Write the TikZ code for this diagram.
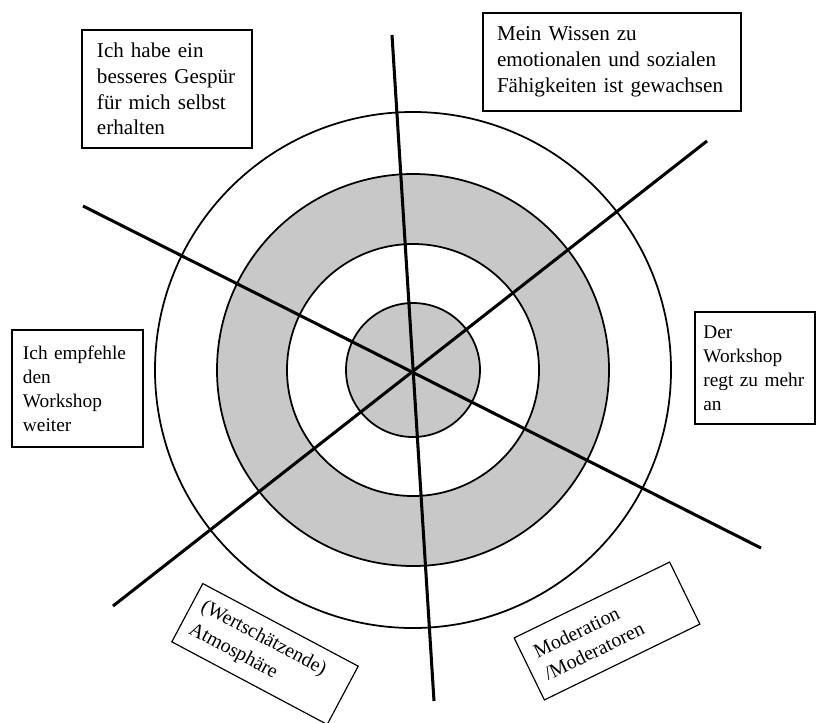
\documentclass[tikz,border=0pt]{standalone}
\usepackage{fontspec}
\setmainfont{Liberation Serif}
\usepackage{tikz}
\definecolor{ringgray}{RGB}{200,200,200}

\begin{document}
\begin{tikzpicture}[x=0.03cm, y=-0.03cm,
    ring/.style={line width=1.5pt},
    spoke/.style={line width=2.6pt},
    labelbox/.style={draw, line width=1pt, fill=white, align=left, inner ysep=0pt}]
  \clip (0,0) rectangle (818,722);

  % Target rings, filled first, outlines on top
  \coordinate (c) at (413,370);
  \fill[ringgray] (c) circle[radius=5.88cm];
  \fill[white] (c) circle[radius=3.78cm];
  \fill[ringgray] (c) circle[radius=2.01cm];
  \foreach \r in {7.74,5.88,3.78,2.01}
    \draw[ring] (c) circle[radius=\r cm];

  % Three spokes through the centre
  \coordinate (s1a) at (392,35);  \coordinate (s1b) at (434,701);
  \coordinate (s2a) at (83,206);  \coordinate (s2b) at (761,548);
  \coordinate (s3a) at (707,141); \coordinate (s3b) at (113,606);
  \foreach \a/\b in {s1a/s1b, s2a/s2b, s3a/s3b}
    \draw[spoke] (\a) -- (\b);

  % Statement boxes
  \node[labelbox, font=\fontsize{18}{22}\selectfont, text width=4.2cm,
        inner xsep=0.45cm, minimum height=3.54cm] (selbst) at (167,89)
    {Ich habe ein\\besseres Gespür\\für mich selbst\\erhalten};
  \node[labelbox, font=\fontsize{18}{22}\selectfont, text width=6.9cm,
        inner xsep=0.42cm, minimum height=2.94cm] (wissen) at (612,62)
    {Mein Wissen zu\\emotionalen und sozialen\\Fähigkeiten ist gewachsen};
  \node[labelbox, font=\fontsize{16.5}{20.5}\selectfont, text width=3.1cm,
        inner xsep=0.25cm, minimum height=3.36cm] (anregung) at (755,368)
    {Der\\Workshop\\regt zu mehr\\an};
  \node[labelbox, font=\fontsize{16.5}{20.5}\selectfont, text width=3.27cm,
        inner xsep=0.33cm, minimum height=3.51cm] (empfehlung) at (77.5,388.5)
    {Ich empfehle\\den\\Workshop\\weiter};

  % Tilted boxes below the target
  \node[labelbox, font=\fontsize{17}{22}\selectfont, text width=4.68cm,
        inner xsep=0.3cm, minimum height=1.98cm, rotate=-28] (atmo) at (265,654)
    {(Wertschätzende)\\Atmosphäre};
  \node[labelbox, font=\fontsize{17}{21}\selectfont, text width=4.47cm,
        inner xsep=0.36cm, minimum height=2.07cm, rotate=26] (moder) at (607,631)
    {Moderation\\/Moderatoren};
\end{tikzpicture}
\end{document}
